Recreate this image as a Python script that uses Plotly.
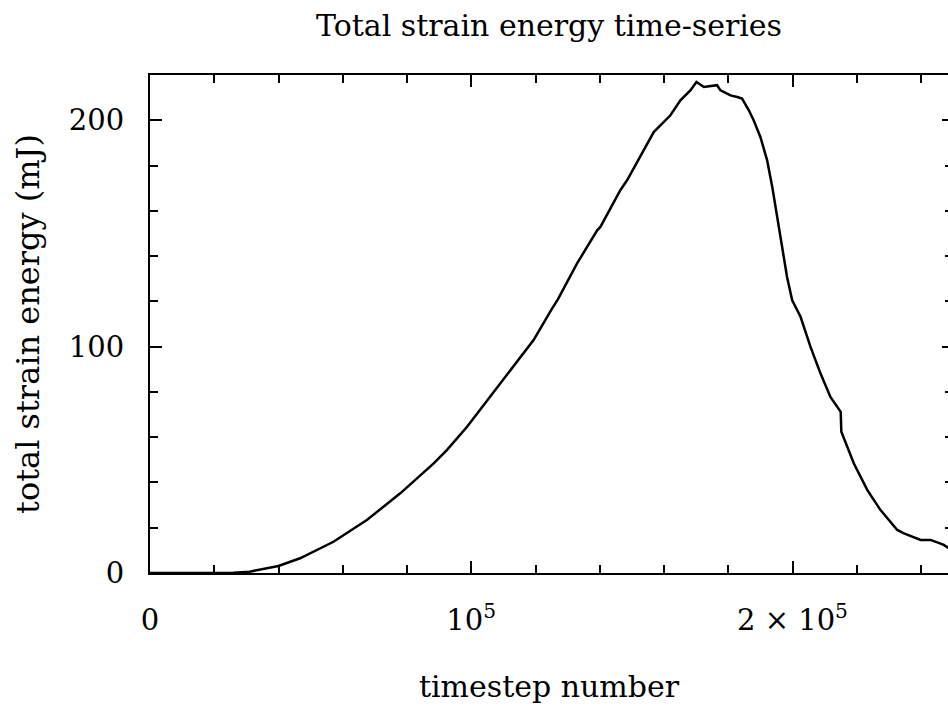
import plotly.graph_objects as go

# timestep number
timestep = [0, 15000, 26000, 31000, 40000, 46700, 57100, 67500, 77900, 88300, 92400,
            98700, 109000, 119400, 125000, 126200, 127000, 132900, 139200, 140200,
            146400, 148500, 152600, 156800, 162000, 165100, 168200, 170100, 172400,
            176500, 177600, 180700, 182800, 184300, 186400, 187900, 190000, 192100,
            193700, 195200, 196800, 198300, 199900, 202500, 205600, 208700, 211800,
            215000, 215200, 219100, 223300, 227400, 232600, 234700, 239900, 243000,
            247100, 248600]
# total strain energy (mJ)
energy = [0.0, 0.0, 0.1, 0.6, 3.1, 6.5, 13.8, 23.4, 35.2, 48.4, 54.3,
          64.6, 83.7, 102.9, 116.5, 119.1, 121.0, 136.7, 151.4, 152.9,
          169.1, 173.5, 183.8, 194.8, 202.2, 208.8, 213.2, 216.9, 214.7,
          215.5, 213.2, 211.0, 210.3, 209.6, 204.4, 200.0, 192.6, 182.3,
          170.5, 157.3, 144.0, 130.8, 120.5, 113.2, 99.9, 88.2, 77.8,
          71.2, 62.4, 48.4, 36.6, 27.8, 19.0, 17.5, 14.6, 14.6,
          12.4, 10.9]

x_tickvals = [0, 100000, 200000]
x_ticktext = ["0", "10<sup>5</sup>", "2 × 10<sup>5</sup>"]
y_tickvals = [0, 100, 200]
y_ticktext = ["0", "100", "200"]

FONT = "DejaVu Serif"

fig = go.Figure()
fig.add_trace(go.Scatter(x=timestep, y=energy, mode="lines",
                         line=dict(color="black", width=2.5),
                         showlegend=False, hoverinfo="skip"))
# helper trace so the right-hand tick axis is drawn
fig.add_trace(go.Scatter(x=timestep, y=energy, mode="lines", yaxis="y2",
                         line=dict(color="rgba(0,0,0,0)", width=0),
                         showlegend=False, hoverinfo="skip"))

fig.update_layout(
    width=948, height=706,
    margin=dict(l=150, r=0, t=75, b=133),
    paper_bgcolor="white", plot_bgcolor="white",
    font=dict(family=FONT, size=29, color="black"),
    title=dict(text="Total strain energy time-series", x=0.5, xref="paper",
               y=1 - 25 / 706, yref="container", yanchor="middle",
               xanchor="center", font=dict(size=30, family=FONT)),
    xaxis=dict(range=[0, 248400], showline=True, linecolor="black", linewidth=2,
               mirror="ticks", ticks="inside", ticklen=12, tickwidth=2, tickcolor="black",
               tickvals=x_tickvals, ticktext=x_ticktext, showgrid=False, zeroline=False,
               ticklabelstandoff=20, automargin=False,
               minor=dict(dtick=20000, tick0=0, ticks="inside", ticklen=8, tickwidth=2,
                          tickcolor="black", showgrid=False),
               title=dict(text="timestep number", standoff=40, font=dict(size=30))),
    yaxis=dict(range=[0, 220], showline=True, linecolor="black", linewidth=2,
               mirror=False, ticks="inside", ticklen=12, tickwidth=2, tickcolor="black",
               tickvals=y_tickvals, ticktext=y_ticktext, showgrid=False, zeroline=False,
               ticklabelstandoff=18, automargin=False,
               minor=dict(dtick=20, tick0=0, ticks="inside", ticklen=8, tickwidth=2,
                          tickcolor="black", showgrid=False),
               title=dict(text="total strain energy (mJ)", standoff=20, font=dict(size=32))),
    yaxis2=dict(range=[0, 220], overlaying="y", side="right", anchor="x",
                showline=False, ticks="inside", ticklen=6, tickwidth=2, tickcolor="black",
                tickvals=y_tickvals, showticklabels=False, showgrid=False, zeroline=False,
                automargin=False,
                minor=dict(dtick=20, tick0=0, ticks="inside", ticklen=3, tickwidth=2,
                           tickcolor="black", showgrid=False)),
)

fig.write_html(
    "out.html",
    config={"displayModeBar": False},
    post_script="document.body.style.margin='0px';document.body.style.overflow='hidden';",
)
